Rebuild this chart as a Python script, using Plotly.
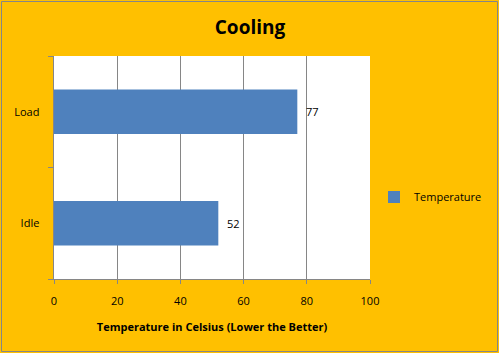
import plotly.graph_objects as go

categories = ["Idle", "Load"]
values = [52, 77]
series_name = "Temperature"
x_ticks = [0, 20, 40, 60, 80, 100]

W, H = 499, 353
L, T, B = 54, 56, 74
PLOT_RIGHT = 370
pw_full = W - L
ph = H - T - B

fig = go.Figure()
fig.add_trace(go.Bar(
    y=categories, x=values, orientation="h", name=series_name,
    marker=dict(color="#4F81BD", line=dict(width=0)),
    texttemplate="  %{x}", textposition="outside",
    textfont=dict(family="Open Sans, Liberation Sans, sans-serif", size=11, color="black"),
    width=0.4, cliponaxis=False,
))

def px_x(p):
    return (p - L) / pw_full

def px_y(p):
    return (H - B - p) / ph

fig.update_layout(
    width=W, height=H,
    margin=dict(l=L, r=0, t=T, b=B, autoexpand=False),
    paper_bgcolor="#FFC000", plot_bgcolor="rgba(0,0,0,0)",
    font=dict(family="Open Sans, Liberation Sans, sans-serif", size=11, color="black"),
    title=dict(text="<b>Cooling</b>", x=px_x(250), xanchor="center", xref="paper",
               y=1 - 27 / H, yanchor="middle", font=dict(size=19, color="black")),
    showlegend=True,
    legend=dict(x=px_x(374), xanchor="left", y=px_y(197), yanchor="middle",
                bgcolor="rgba(0,0,0,0)", font=dict(size=11), itemwidth=30),
    xaxis=dict(domain=[0, (PLOT_RIGHT - L) / pw_full], range=[0, 100], tickvals=x_ticks,
               showgrid=True, gridcolor="#868686", gridwidth=1,
               zeroline=False, showline=True, linecolor="#868686", ticks="outside", ticklen=4,
               tickcolor="#868686", tickfont=dict(size=11), ticklabelstandoff=8,
               title=dict(text="<b>Temperature in Celsius (Lower the Better)</b>", font=dict(size=11), standoff=16)),
    yaxis=dict(type="category", categoryorder="array", categoryarray=categories,
               range=[-0.5, 1.5], showgrid=False, showline=True, linecolor="#868686",
               ticks="outside", ticklen=5, tickcolor="#868686", tickson="boundaries",
               tickfont=dict(size=11), ticksuffix="    "),
    shapes=[
        dict(type="rect", xref="paper", yref="paper", layer="below",
             x0=0, x1=(PLOT_RIGHT - L) / pw_full, y0=0, y1=1,
             line=dict(width=0), fillcolor="white"),
        dict(type="rect", xref="paper", yref="paper",
             x0=px_x(1.5), x1=px_x(497.5), y0=px_y(351.5), y1=px_y(1.5),
             line=dict(color="#868686", width=1), fillcolor="rgba(0,0,0,0)"),
    ],
)

fig.write_html("out.html")
